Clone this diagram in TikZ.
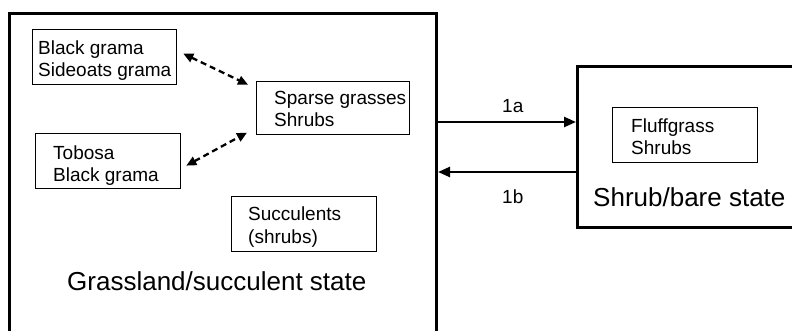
\documentclass[tikz,border=0pt]{standalone}
\usepackage{fontspec}
\setmainfont{Liberation Sans}
\usetikzlibrary{arrows.meta}
\begin{document}
\begin{tikzpicture}[x=1pt,y=-1pt,
  statebox/.style={draw,line width=3pt,inner sep=0pt},
  spbox/.style={draw,line width=1.3pt,inner sep=0pt},
  smalltxt/.style={anchor=base west,inner sep=0pt,font=\fontsize{19}{22.5}\selectfont,align=left},
  bigtxt/.style={anchor=base west,inner sep=0pt,font=\fontsize{26}{30}\selectfont},
  arr/.style={line width=2.4pt,-{Triangle[length=12pt,width=10pt]}},
  darr/.style={line width=2.3pt,dash pattern=on 6pt off 4pt,{Triangle[length=10pt,width=9pt]}-{Triangle[length=10pt,width=9pt]}}]
\useasboundingbox (0,0) rectangle (792,331);
\clip (0,0) rectangle (792,331);
% state boxes
\node[statebox,minimum width=427pt,minimum height=340pt,anchor=north west] (big) at (8,12) {};
\node[statebox,minimum width=230pt,minimum height=161pt,anchor=north west] (shrub) at (576,65) {};
% species boxes
\node[spbox,minimum width=144pt,minimum height=55pt,anchor=north west] (bg) at (32,29) {};
\node[spbox,minimum width=145pt,minimum height=55pt,anchor=north west] (tob) at (35,133) {};
\node[spbox,minimum width=153pt,minimum height=53pt,anchor=north west] (sp) at (256,81) {};
\node[spbox,minimum width=145pt,minimum height=55pt,anchor=north west] (suc) at (231,196) {};
\node[spbox,minimum width=145pt,minimum height=55pt,anchor=north west] (fl) at (612,107) {};
% texts (anchored at the baseline of the last line)
\node[smalltxt] (tbg) at (38,77) {Black grama\\Sideoats grama};
\node[smalltxt] (ttob) at (53,182) {Tobosa\\Black grama};
\node[smalltxt] (tsp) at (274,127) {Sparse grasses\\Shrubs};
\node[smalltxt] (tsuc) at (248,243) {Succulents\\(shrubs)};
\node[smalltxt] (tfl) at (631,155) {Fluffgrass\\Shrubs};
\node[bigtxt] (tgr) at (67,290) {Grassland/succulent state};
\node[bigtxt] (tsh) at (593,207) {Shrub/bare state};
\node[smalltxt] (l1a) at (502,113) {1a};
\node[smalltxt] (l1b) at (502,204) {1b};
% transitions
\draw[arr] (big.east |- 0,122) -- (shrub.west |- 0,122);
\draw[arr] (shrub.west |- 0,172) -- (big.east |- 0,172);
\draw[darr] ([xshift=6pt,yshift=3.5pt]bg.east) -- ([xshift=-8pt,yshift=23.5pt]sp.west);
\draw[darr] ([xshift=5pt,yshift=-4.5pt]tob.east) -- ([xshift=-9pt,yshift=-24.5pt]sp.west);
\end{tikzpicture}
\end{document}
